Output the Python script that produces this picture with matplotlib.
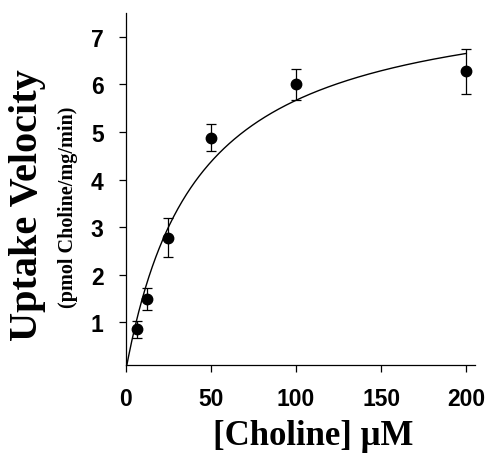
import numpy as np
import matplotlib
matplotlib.use("Agg")
from matplotlib import pyplot as plt

# choline concentration (uM) and measured uptake velocity
choline = [6.25, 12.5, 25, 50, 100, 200]
velocity = [0.85, 1.5, 2.78, 4.88, 6.0, 6.28]
err = [0.18, 0.23, 0.41, 0.28, 0.33, 0.47]

# Michaelis-Menten fit
vmax = 8.05
km = 42.0

xticks = [0, 50, 100, 150, 200]
yticks = [1, 2, 3, 4, 5, 6, 7]

fig = plt.figure(figsize=(4.9, 4.56), dpi=100)
ax = fig.add_axes([0.257, 0.197, 0.712, 0.772])

xs = np.linspace(0, 200, 400)
ax.plot(xs, vmax * xs / (km + xs), color="black", lw=1.0)
ax.errorbar(choline, velocity, yerr=err, fmt="o", color="black",
            ms=7.5, elinewidth=0.9, capsize=3.5, capthick=0.9)

ax.set_xlim(0, 205)
ax.set_ylim(0.1, 7.5)
ax.set_xticks(xticks)
ax.set_yticks(yticks)
ax.spines["top"].set_visible(False)
ax.spines["right"].set_visible(False)
for s in ["left", "bottom"]:
    ax.spines[s].set_linewidth(0.9)

ax.tick_params(direction="out", length=5, width=0.9)
ax.tick_params(axis="x", pad=11)
ax.tick_params(axis="y", pad=11)
for lab in ax.get_xticklabels() + ax.get_yticklabels():
    lab.set_fontfamily("Liberation Sans")
    lab.set_fontweight("bold")
    lab.set_fontsize(16.5)

fig.text(0.64, 0.024, "[Choline] \u03bcM", family="Liberation Serif",
         weight="bold", fontsize=25, ha="center", va="baseline")
fig.text(0.056, 0.55, "Uptake Velocity", family="Liberation Serif",
         weight="bold", fontsize=29, rotation=90, ha="center", va="center")
fig.text(0.138, 0.545, "(pmol Choline/mg/min)", family="Liberation Serif",
         weight="bold", fontsize=14.5, rotation=90, ha="center", va="center")

fig.savefig("out.png", dpi=100)
